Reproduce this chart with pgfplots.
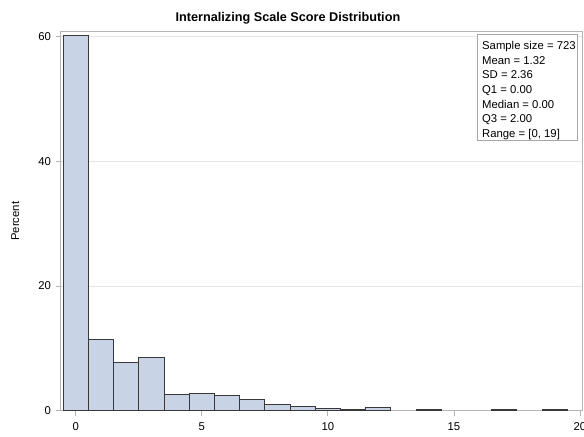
\documentclass[border=0pt]{standalone}
\usepackage{fontspec}
\setmainfont{Liberation Sans}
\usepackage{pgfplots}
\pgfplotsset{compat=1.18}
\definecolor{barfill}{HTML}{C8D3E5}
\definecolor{baredge}{HTML}{383838}
\definecolor{framegray}{HTML}{B4B4B4}
\definecolor{gridgray}{HTML}{E6E6E6}
\definecolor{boxgray}{HTML}{A8A8A8}
\begin{document}
\begin{tikzpicture}
\begin{axis}[
  at={(0,0)}, anchor=south west,
  scale only axis,
  width=391pt, height=284.5pt,
  xmin=-0.6, xmax=20.08, ymin=0, ymax=60.77,
  xtick={0,5,10,15,20}, ytick={0,20,40,60},
  ymajorgrids, grid style={draw=gridgray, line width=0.6pt},
  tick align=outside, xtick pos=bottom, ytick pos=left,
  major tick length=3.75pt,
  every tick/.style={draw=framegray, line width=0.6pt},
  axis line style={draw=framegray, line width=0.6pt},
  tick label style={font=\fontsize{8.5}{10}\selectfont},
  xticklabel style={yshift=-1.5pt},
  /pgf/number format/assume math mode=true,
  ylabel={Percent},
  ylabel style={font=\fontsize{8.5}{10}\selectfont, at={(axis description cs:-0.087,0.5)}, anchor=center},
  title={Internalizing Scale Score Distribution},
  title style={font=\fontsize{9.5}{11}\selectfont\bfseries, at={(axis description cs:0.436,1)}, anchor=base, yshift=1.5pt},
]
\addplot[ybar, bar width=1, bar shift=0, fill=barfill, draw=baredge, line width=0.75pt] coordinates {
 (0,60.2) (1,11.4) (2,7.75) (3,8.55) (4,2.65) (5,2.77) (6,2.49) (7,1.8)
 (8,0.97) (9,0.66) (10,0.41) (11,0.14) (12,0.55) (14,0.14) (17,0.14) (19,0.14)
};
\node[draw=boxgray, line width=0.6pt, anchor=north east, minimum width=75pt, minimum height=79.5pt, inner sep=0pt, fill=white] (box) at ([xshift=-3pt,yshift=-1.9pt]rel axis cs:1,1) {};
\node[anchor=north west, align=left, inner sep=0pt, font=\fontsize{8.5}{11}\selectfont] at ([xshift=3.5pt,yshift=-5.25pt]box.north west) {Sample size = 723\\Mean = 1.32\\SD = 2.36\\Q1 = 0.00\\Median = 0.00\\Q3 = 2.00\\Range = [0, 19]};
\end{axis}
\pgfresetboundingbox
\path[use as bounding box] (-45.5pt,-18.9pt) rectangle (392.5pt,308.1pt);
\end{tikzpicture}
\end{document}
